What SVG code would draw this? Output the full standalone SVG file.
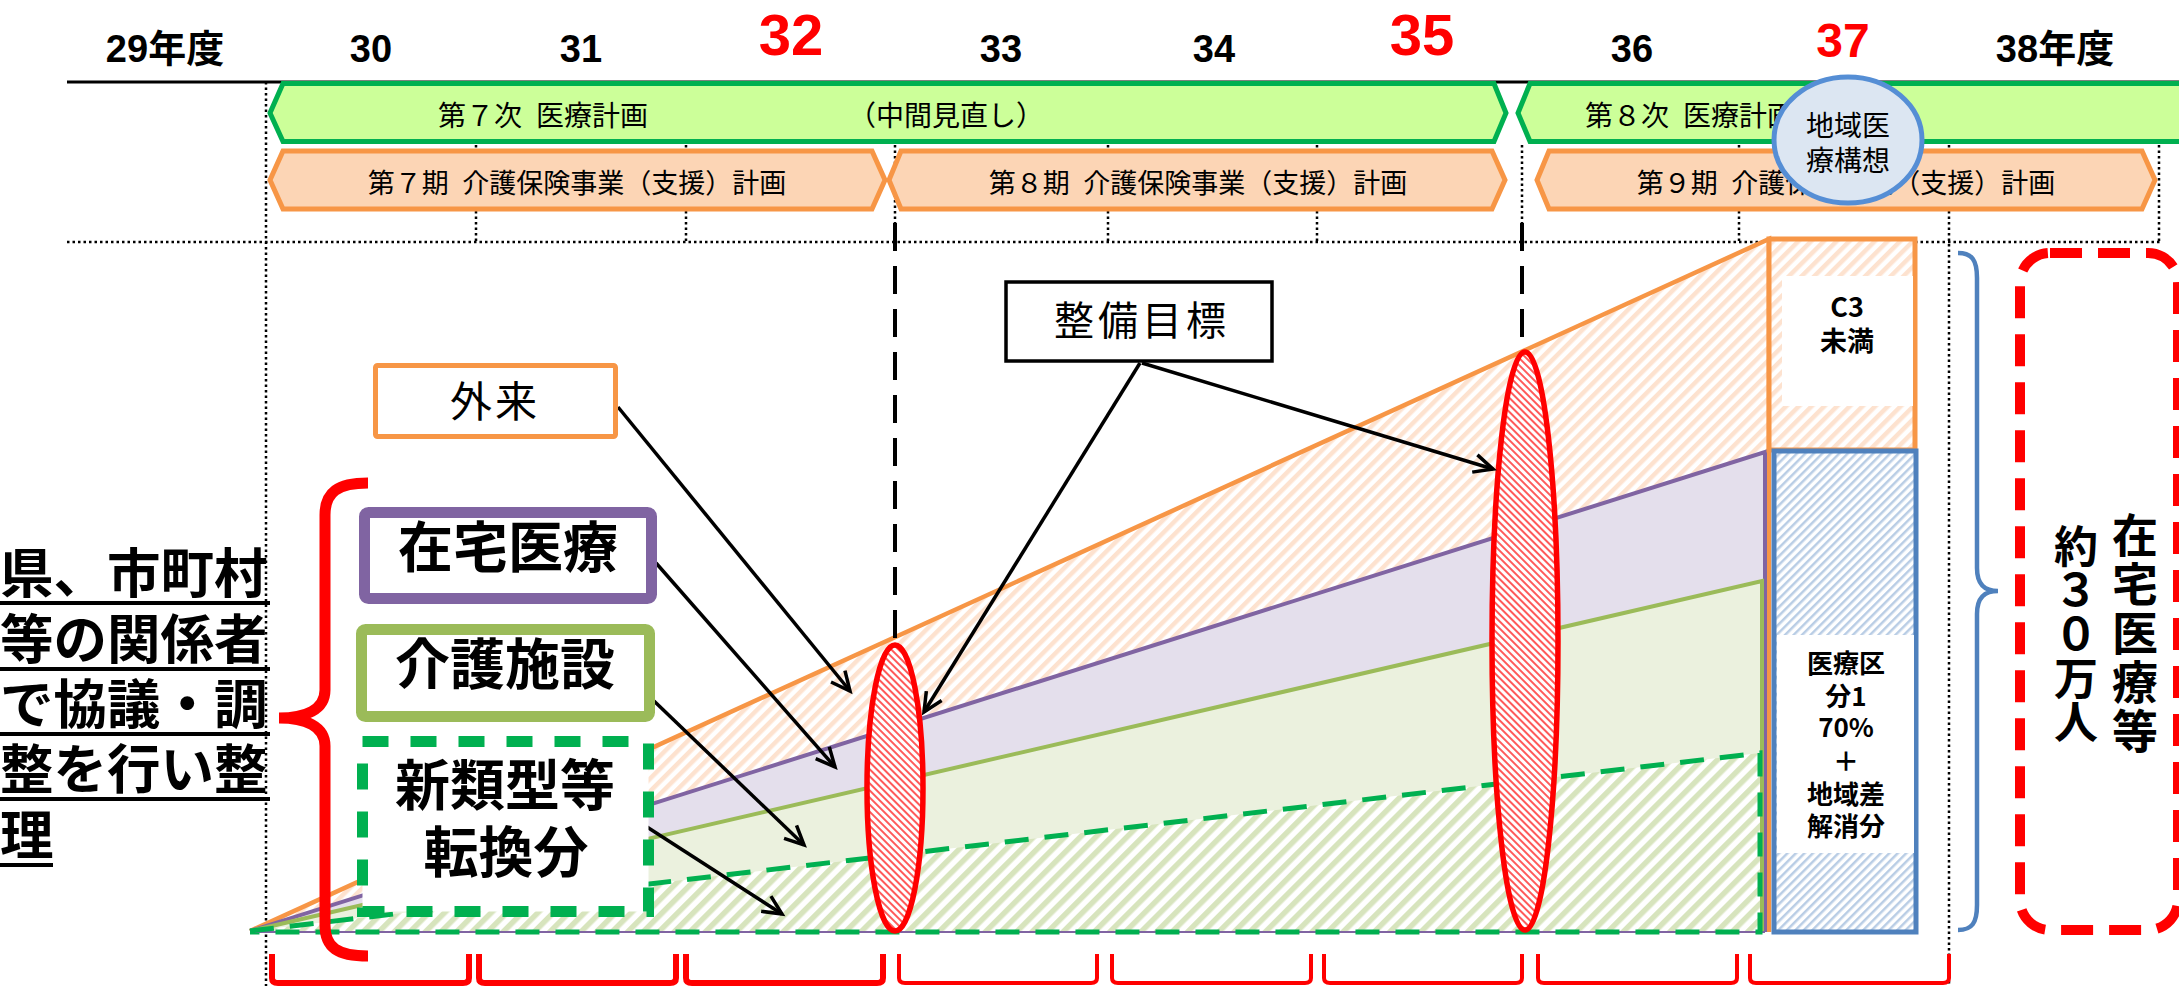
<svg xmlns="http://www.w3.org/2000/svg" width="2179" height="986" viewBox="0 0 2179 986">
<style>
.jp{font-family:"Noto Sans CJK JP","Noto Sans CJK SC",sans-serif}
.yr{font-family:"Liberation Sans","Noto Sans CJK JP",sans-serif;font-weight:bold;text-anchor:middle}
.blk{fill:#000;font-size:38px}
.red{fill:#ff0000}
.dot{stroke:#000;stroke-width:2.5;stroke-dasharray:2.5 3;fill:none}
.dash{stroke:#000;stroke-width:4;stroke-dasharray:28 15;fill:none}
.bandg{fill:#ccff99;stroke:#00b050;stroke-width:5}
.bando{fill:#fcd5b5;stroke:#f79646;stroke-width:5}
.bt{font-size:28px;fill:#000}
.kt{font-size:27px;fill:#000;text-anchor:middle}
.arrow{stroke:#000;stroke-width:3.5;fill:none;marker-end:url(#arr)}
.b{font-weight:bold}
.mid{text-anchor:middle}
.brk{fill:none;stroke:#ff0000}
.ul{stroke:#000;stroke-width:4}
.rell{fill:url(#hR);stroke:#ff0000;stroke-width:5.5}
.vt{writing-mode:vertical-rl;fill:#000}
</style>
<defs>
<pattern id="hO" patternUnits="userSpaceOnUse" width="9" height="9" patternTransform="rotate(45)"><rect width="9" height="9" fill="#fff"/><rect width="4.5" height="9" fill="#fde2cf"/></pattern>
<pattern id="hG" patternUnits="userSpaceOnUse" width="11" height="11" patternTransform="rotate(45)"><rect width="11" height="11" fill="#fff"/><rect width="5.5" height="11" fill="#d7e4bd"/></pattern>
<pattern id="hB" patternUnits="userSpaceOnUse" width="6" height="6" patternTransform="rotate(45)"><rect width="6" height="6" fill="#fff"/><rect width="2.5" height="6" fill="#b9cde5"/></pattern>
<pattern id="hR" patternUnits="userSpaceOnUse" width="5" height="5" patternTransform="rotate(-45)"><rect width="5" height="5" fill="#fff"/><rect width="2" height="5" fill="#ff5a5a"/></pattern>
<marker id="arr" markerUnits="userSpaceOnUse" markerWidth="26" markerHeight="24" refX="21" refY="10" orient="auto" viewBox="0 0 26 20" overflow="visible"><path d="M2,1 L21,10 L2,19" fill="none" stroke="#000" stroke-width="3.5"/></marker>
</defs>

<rect width="2179" height="986" fill="#fff"/>

<g id="years">
<text class="yr blk" x="165" y="62">29年度</text>
<text class="yr blk" x="371" y="62">30</text>
<text class="yr blk" x="581" y="62">31</text>
<text class="yr red" x="791" y="55" font-size="58">32</text>
<text class="yr blk" x="1001" y="62">33</text>
<text class="yr blk" x="1214" y="62">34</text>
<text class="yr red" x="1422" y="55" font-size="58">35</text>
<text class="yr blk" x="1632" y="62">36</text>
<text class="yr red" x="1843" y="57" font-size="48">37</text>
<text class="yr blk" x="2055" y="62">38年度</text>
</g>

<g id="grid">
<line x1="67" y1="82" x2="2179" y2="82" stroke="#000" stroke-width="3"/>
<line class="dot" x1="67" y1="242" x2="2160" y2="242"/>
<line class="dot" x1="266" y1="82" x2="266" y2="986"/>
<line class="dot" x1="1949" y1="145" x2="1949" y2="986"/>
<line class="dot" x1="476" y1="145" x2="476" y2="242"/>
<line class="dot" x1="686" y1="145" x2="686" y2="242"/>
<line class="dot" x1="895" y1="145" x2="895" y2="242"/>
<line class="dot" x1="1108" y1="145" x2="1108" y2="242"/>
<line class="dot" x1="1317" y1="145" x2="1317" y2="242"/>
<line class="dot" x1="1522" y1="145" x2="1522" y2="242"/>
<line class="dot" x1="1739" y1="145" x2="1739" y2="242"/>
<line class="dot" x1="2159" y1="145" x2="2159" y2="242"/>
</g>

<g id="plan-medical">
<path class="bandg" d="M283,83.5 L1494,83.5 L1506,113 L1494,141.5 L283,141.5 L270,113 Z"/>
<text class="jp bt" x="438" y="126">第７次&#8194;医療計画</text>
<text class="jp bt" x="848" y="126">（中間見直し）</text>
<path class="bandg" d="M1530,83.5 L2195,83.5 L2195,141.5 L1530,141.5 L1518,113 Z"/>
<text class="jp bt" x="1585" y="126">第８次&#8194;医療計画</text>
</g>

<g id="plan-care">
<path class="bando" d="M283,151 L872,151 L885,180 L872,209 L283,209 L270,180 Z"/>
<text class="jp kt" x="577" y="193">第７期&#8194;介護保険事業（支援）計画</text>
<path class="bando" d="M901,151 L1492,151 L1505,180 L1492,209 L901,209 L889,180 Z"/>
<text class="jp kt" x="1198" y="193">第８期&#8194;介護保険事業（支援）計画</text>
<path class="bando" d="M1549,151 L2142,151 L2155,180 L2142,209 L1549,209 L1537,180 Z"/>
<text class="jp kt" x="1846" y="193">第９期&#8194;介護保険事業（支援）計画</text>
</g>

<g id="regional-vision">
<ellipse cx="1848" cy="140" rx="74" ry="63" fill="#dce6f2" stroke="#558ed5" stroke-width="5"/>
<text class="jp mid" font-size="28"><tspan x="1848" y="136">地域医</tspan><tspan x="1848" y="171">療構想</tspan></text>
</g>

<g id="chart">
<polygon points="250,931 1769,239 1769,932 250,932" fill="url(#hO)"/>
<polygon points="250,931 1765,452 1765,932 250,932" fill="#e4dfec"/>
<polygon points="250,931 1762,581 1762,932 250,932" fill="#ebf1de"/>
<polygon points="250,931 1760,753 1760,932 250,932" fill="url(#hG)"/>
<polyline points="250,931 1769,239 1769,932" fill="none" stroke="#f79646" stroke-width="4.5"/>
<polyline points="250,931 1765,452 1765,932" fill="none" stroke="#8064a2" stroke-width="4"/>
<polyline points="250,931 1762,581 1762,932" fill="none" stroke="#9bbb59" stroke-width="4"/>
<line x1="250" y1="932" x2="1765" y2="932" stroke="#8064a2" stroke-width="2"/>
<polyline points="250,931 1760,753 1760,932 250,932" fill="none" stroke="#00b050" stroke-width="5" stroke-dasharray="24 16"/>
<line class="dash" x1="895" y1="223" x2="895" y2="645"/>
<line class="dash" x1="1522" y1="223" x2="1522" y2="352"/>
</g>

<g id="c3">
<rect x="1769" y="239" width="146" height="211" fill="url(#hO)" stroke="#f79646" stroke-width="5"/>
<rect x="1782" y="276" width="131" height="130" fill="#fff"/>
<text class="jp b mid" font-size="27"><tspan x="1847" y="317">C3</tspan><tspan x="1847" y="351">未満</tspan></text>
</g>

<g id="medical-class1">
<rect x="1774" y="451" width="142" height="481" fill="url(#hB)" stroke="#4f81bd" stroke-width="5"/>
<rect x="1777" y="635" width="137" height="218" fill="#fff"/>
<text class="jp b mid" font-size="26"><tspan x="1846" y="673">医療区</tspan><tspan x="1846" y="706">分1</tspan><tspan x="1846" y="737">70%</tspan><tspan x="1846" y="771">＋</tspan><tspan x="1846" y="804">地域差</tspan><tspan x="1846" y="836">解消分</tspan></text>
</g>

<g id="target-32">
<ellipse class="rell" cx="895" cy="788" rx="28" ry="143"/>
</g>
<g id="target-35">
<ellipse class="rell" cx="1525" cy="641" rx="33" ry="289"/>
</g>

<g id="connectors">
<line class="arrow" x1="618" y1="407" x2="850" y2="691"/>
<line class="arrow" x1="656" y1="563" x2="835" y2="767"/>
<line class="arrow" x1="654" y1="701" x2="804" y2="845"/>
<line class="arrow" x1="647" y1="827" x2="782" y2="914"/>
<line class="arrow" x1="1140" y1="363" x2="924" y2="712"/>
<line class="arrow" x1="1142" y1="363" x2="1493" y2="469"/>
</g>

<g id="gairai">
<rect x="375.5" y="365.5" width="240" height="71" rx="2" fill="#fff" stroke="#f79646" stroke-width="5"/>
<text class="jp mid" x="495" y="417" font-size="42" letter-spacing="3">外来</text>
</g>

<g id="zaitaku">
<rect x="364.5" y="512.5" width="287" height="86" rx="4" fill="#fff" stroke="#8064a2" stroke-width="11"/>
<text class="jp b mid" x="508" y="567" font-size="55">在宅医療</text>
</g>

<g id="kaigo">
<rect x="361.5" y="629.5" width="288" height="87" rx="4" fill="#fff" stroke="#9bbb59" stroke-width="11"/>
<text class="jp b mid" x="505" y="684" font-size="55">介護施設</text>
</g>

<g id="shinruikei">
<rect x="362.5" y="741.5" width="286" height="170" fill="#fff" stroke="#00b050" stroke-width="11" stroke-dasharray="26 22"/>
<text class="jp b mid" font-size="55"><tspan x="505" y="805">新類型等</tspan><tspan x="506" y="872">転換分</tspan></text>
</g>

<g id="seibi">
<rect x="1006" y="282" width="266" height="79" fill="#fff" stroke="#000" stroke-width="3.5"/>
<text class="jp mid" x="1142" y="335" font-size="40" letter-spacing="4">整備目標</text>
</g>

<g id="left-note">
<text class="jp b" font-size="53.5" fill="#000"><tspan x="0" y="593">県、市町村</tspan><tspan x="0" y="659">等の関係者</tspan><tspan x="0" y="724">で協議・調</tspan><tspan x="0" y="789">整を行い整</tspan><tspan x="0" y="855">理</tspan></text>
<line class="ul" x1="0" y1="603" x2="270" y2="603"/>
<line class="ul" x1="0" y1="669" x2="270" y2="669"/>
<line class="ul" x1="0" y1="734" x2="270" y2="734"/>
<line class="ul" x1="0" y1="799" x2="270" y2="799"/>
<line class="ul" x1="0" y1="865" x2="53" y2="865"/>
</g>

<g id="left-brace">
<path d="M368,483 C338,483 325,492 325,515 L325,690 C325,710 305,718 279,718 C305,718 325,726 325,746 L325,925 C325,948 338,956 368,956" fill="none" stroke="#ff0000" stroke-width="11"/>
</g>

<g id="year-brackets">
<path class="brk" stroke-width="6" d="M272,954 L272,978 Q272,983 278,983 L463,983 Q469,983 469,978 L469,954"/>
<path class="brk" stroke-width="6" d="M479,954 L479,978 Q479,983 485,983 L670,983 Q676,983 676,978 L676,954"/>
<path class="brk" stroke-width="6" d="M686,954 L686,978 Q686,983 692,983 L877,983 Q883,983 883,978 L883,954"/>
<path class="brk" stroke-width="4" d="M899,954 L899,978 Q899,983 905,983 L1091,983 Q1097,983 1097,978 L1097,954"/>
<path class="brk" stroke-width="4" d="M1112,954 L1112,978 Q1112,983 1118,983 L1305,983 Q1311,983 1311,978 L1311,954"/>
<path class="brk" stroke-width="4" d="M1324,954 L1324,978 Q1324,983 1330,983 L1516,983 Q1522,983 1522,978 L1522,954"/>
<path class="brk" stroke-width="4" d="M1538,954 L1538,978 Q1538,983 1544,983 L1731,983 Q1737,983 1737,978 L1737,954"/>
<path class="brk" stroke-width="4" d="M1750,954 L1750,978 Q1750,983 1756,983 L1943,983 Q1949,983 1949,978 L1949,954"/>
</g>

<g id="right-brace">
<path d="M1958,253 C1972,253 1977,260 1977,278 L1977,568 C1977,585 1985,591 1998,591 C1985,591 1977,597 1977,614 L1977,905 C1977,923 1972,930 1958,930" fill="none" stroke="#4f81bd" stroke-width="4.5"/>
</g>

<g id="total">
<rect x="2020" y="253" width="158" height="677" rx="30" fill="none" stroke="#ff0000" stroke-width="10" stroke-dasharray="32 16"/>
<text class="jp b vt" x="2135" y="512" font-size="46" letter-spacing="3">在宅医療等</text>
<text class="jp b vt" x="2076" y="524" font-size="44">約３０万人</text>
</g>
</svg>
